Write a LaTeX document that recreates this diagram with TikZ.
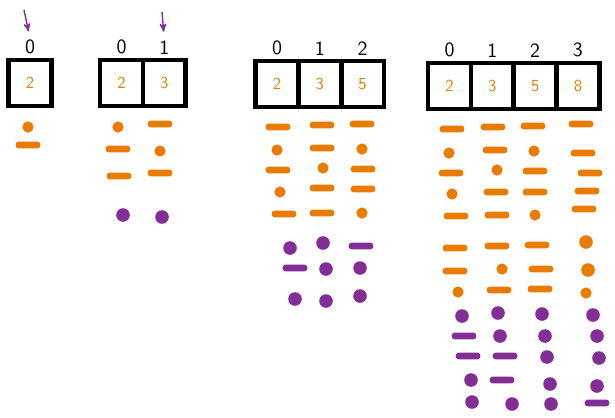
\documentclass[tikz,border=0pt]{standalone}
\usepackage{tikz}
\usetikzlibrary{arrows,positioning}
\definecolor{orng}{RGB}{232,123,0}
\definecolor{purp}{RGB}{130,46,150}
\tikzset{
  cell/.style={draw,line width=3.4pt,outer sep=0pt,inner sep=0pt,
    minimum width=1.07cm,minimum height=1.15cm,text=orng,font=\sffamily\large},
  idx/.style={font=\sffamily\Large,inner sep=1pt},
  dit/.style={circle,fill,inner sep=0pt,minimum size=0.28cm},
  blob/.style={dit,minimum size=0.34cm},
  dah/.style={rectangle,rounded corners=0.08cm,fill,inner sep=0pt,
    minimum width=0.62cm,minimum height=0.17cm},
  ptr/.style={->,>=stealth',shorten >=5pt,draw=purp,line width=1pt}
}

\begin{document}
\begin{tikzpicture}[x=0.025cm,y=-0.025cm]
    \useasboundingbox (0,0) rectangle (615,417);
    % one cell
    \node[cell] (a0) at (30,83) {2};
    \node[idx,above=3pt of a0] (ia0) {0};
    \coordinate (pa) at (24,10);
    \draw[ptr] (pa) -- (ia0.north);
    % two cells
    \node[cell] (b0) at (121.5,83) {2};
    \node[cell,right=0pt of b0] (b1) {3};
    \node[idx,above=3pt of b0] (ib0) {0};
    \node[idx,above=3pt of b1] (ib1) {1};
    \coordinate (pb) at (162,12);
    \draw[ptr] (pb) -- (ib1.north);
    % three cells
    \node[cell] (c0) at (277,84) {2};
    \node[cell,right=0pt of c0] (c1) {3};
    \node[cell,right=0pt of c1] (c2) {5};
    \node[idx,above=3pt of c0] (ic0) {0};
    \node[idx,above=3pt of c1] (ic1) {1};
    \node[idx,above=3pt of c2] (ic2) {2};
    % four cells
    \node[cell] (d0) at (449.5,86) {2};
    \node[cell,right=0pt of d0] (d1) {3};
    \node[cell,right=0pt of d1] (d2) {5};
    \node[cell,right=0pt of d2] (d3) {8};
    \node[idx,above=3pt of d0] (id0) {0};
    \node[idx,above=3pt of d1] (id1) {1};
    \node[idx,above=3pt of d2] (id2) {2};
    \node[idx,above=3pt of d3] (id3) {3};
    % dots and dashes
    \foreach \x/\y/\k/\c in {28/127/dit/orng, 28/145/dah/orng,
        118/127/dit/orng, 118/149/dah/orng, 119/176/dah/orng, 123/215/blob/purp,
        160/124/dah/orng, 160/151/dit/orng, 160/173/dah/orng, 162/217/blob/purp}
        \node[\k,\c] (m\x-\y) at (\x,\y) {};
    \foreach \x/\y/\k/\c in {278/127/dah/orng, 277/150/dit/orng, 278/170/dah/orng,
        280/192/dit/orng, 284/214/dah/orng, 290/248/blob/purp, 295/268/dah/purp,
        295/299/blob/purp,
        322/125/dah/orng, 322/148/dah/orng, 323/168/dit/orng, 322/188/dah/orng,
        322/213/dah/orng, 323/243/blob/purp, 326/269/blob/purp, 326/301/blob/purp,
        362/124/dah/orng, 362/149/dit/orng, 363/169/dah/orng, 363/189/dah/orng,
        362/213/dit/orng, 361/246/dah/purp, 360/268/blob/purp, 360/296/blob/purp}
        \node[\k,\c] (m\x-\y) at (\x,\y) {};
    \foreach \x/\y/\k/\c in {452/129/dah/orng, 449/153/dit/orng, 451/173/dah/orng,
        452/194/dit/orng, 456/216/dah/orng, 455/248/dah/orng, 455/271/dah/orng,
        458/292/dit/orng, 462/316/blob/purp, 464/336/dah/purp, 468/356/dah/purp,
        471/380/blob/purp, 472/402/blob/purp,
        493/127/dah/orng, 495/150/dah/orng, 497/170/dit/orng, 496/192/dah/orng,
        497/215/dah/orng, 497/246/dah/orng, 502/269/dit/orng, 499/290/dah/orng,
        498/313/blob/purp, 500/336/blob/purp, 505/356/dah/purp, 502/380/dah/purp,
        512/404/blob/purp}
        \node[\k,\c] (m\x-\y) at (\x,\y) {};
    \foreach \x/\y/\k/\c in {533/126/dah/orng, 534/151/dit/orng, 535/171/dah/orng,
        535/192/dah/orng, 535/215/dit/orng, 537/245/dah/orng, 541/269/dah/orng,
        540/289/dah/orng, 542/314/blob/purp, 545/336/blob/purp, 547/357/blob/purp,
        550/384/blob/purp, 551/404/blob/purp,
        581/124/dah/orng, 583/153/dah/orng, 590/173/dah/orng, 587/191/dah/orng,
        584/209/dah/orng, 586/242/blob/orng, 588/270/blob/orng, 586/293/dit/orng,
        593/315/blob/purp, 597/336/blob/purp, 599/358/blob/purp, 597/386/blob/purp,
        597/403/dah/purp}
        \node[\k,\c] (m\x-\y) at (\x,\y) {};
\end{tikzpicture}
\end{document}
